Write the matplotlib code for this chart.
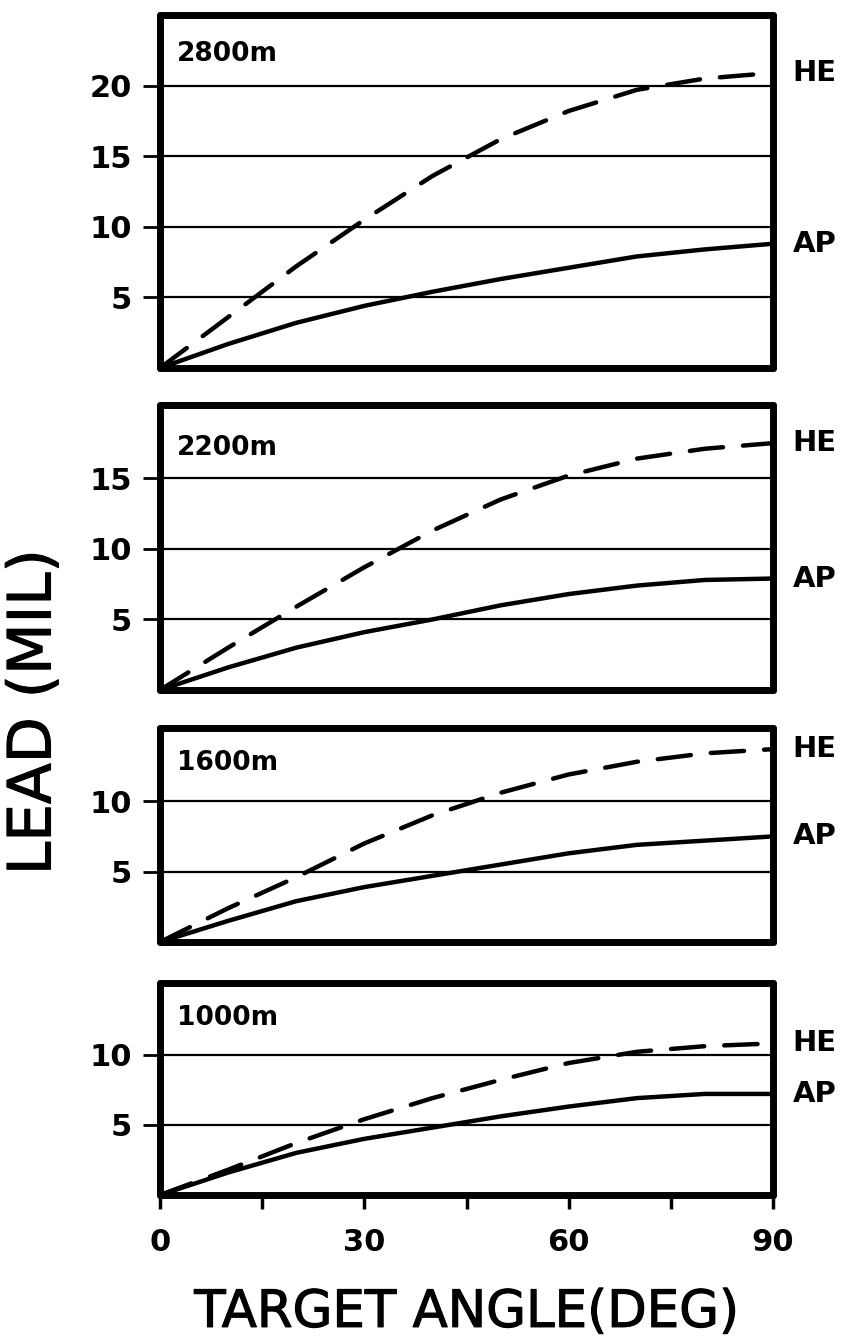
import matplotlib
matplotlib.use("Agg")
import matplotlib.pyplot as plt
import matplotlib.patheffects as pe

# ---- data ----
angles = [0, 10, 20, 30, 40, 50, 60, 70, 80, 90]
ranges = ["2800m", "2200m", "1600m", "1000m"]
he_2800 = [0, 3.6, 7.2, 10.5, 13.6, 16.2, 18.2, 19.7, 20.5, 20.9]
ap_2800 = [0, 1.7, 3.2, 4.4, 5.4, 6.3, 7.1, 7.9, 8.4, 8.8]
he_2200 = [0, 3.0, 5.9, 8.7, 11.3, 13.5, 15.2, 16.4, 17.1, 17.5]
ap_2200 = [0, 1.6, 3.0, 4.1, 5.0, 6.0, 6.8, 7.4, 7.8, 7.9]
he_1600 = [0, 2.4, 4.6, 7.0, 9.0, 10.6, 11.9, 12.8, 13.4, 13.7]
ap_1600 = [0, 1.5, 2.9, 3.9, 4.7, 5.5, 6.3, 6.9, 7.2, 7.5]
he_1000 = [0, 1.8, 3.7, 5.4, 6.9, 8.2, 9.4, 10.2, 10.6, 10.8]
ap_1000 = [0, 1.6, 3.0, 4.0, 4.8, 5.6, 6.3, 6.9, 7.2, 7.2]
he_series = [he_2800, he_2200, he_1600, he_1000]
ap_series = [ap_2800, ap_2200, ap_1600, ap_1000]
yticks = [[5, 10, 15, 20], [5, 10, 15], [5, 10], [5, 10]]
ytop = [25, 20.2, 15.2, 15.1]
xticks_major = [0, 30, 60, 90]
xticks_minor = [15, 45, 75]

W, H = 851, 1339
fig = plt.figure(figsize=(W / 100, H / 100), dpi=100)
fig.patch.set_facecolor("white")

medium = [pe.withStroke(linewidth=0.8, foreground="black")]

# panel pixel extents (top, bottom)
panels_px = [(15, 368), (405, 690), (728, 942), (983, 1195)]
left_px, right_px = 160, 773

for i, (top, bot) in enumerate(panels_px):
    ax = fig.add_axes([left_px / W, 1 - bot / H, (right_px - left_px) / W, (bot - top) / H])
    ax.set_xlim(0, 90)
    ax.set_ylim(0, ytop[i])
    for s in ax.spines.values():
        s.set_linewidth(5)
        s.set_capstyle("round")
        s.set_joinstyle("round")
    for yv in yticks[i]:
        ax.axhline(yv, color="black", lw=1.6, zorder=1)
    ax.plot(angles, ap_series[i], color="black", lw=3.2, solid_capstyle="round",
            solid_joinstyle="round", zorder=3)
    ax.plot(angles, he_series[i], color="black", lw=3.2, dashes=(7.5, 4.5),
            dash_capstyle="round", zorder=3)
    ax.set_yticks(yticks[i])
    ax.set_yticklabels([str(v) for v in yticks[i]], fontsize=22, fontweight="bold")
    ax.tick_params(axis="y", direction="out", length=12, width=2, pad=8)
    ax.text(0.027, 0.925 if i == 0 else 0.895, ranges[i], transform=ax.transAxes,
            fontsize=19, fontweight="bold", ha="left", va="top")
    ax.annotate("HE", xy=(90, he_series[i][-1]), xytext=(14, 0), textcoords="offset points",
                fontsize=21, fontweight="bold", va="center", ha="left", annotation_clip=False)
    ax.annotate("AP", xy=(90, ap_series[i][-1]), xytext=(14, 0), textcoords="offset points",
                fontsize=21, fontweight="bold", va="center", ha="left", annotation_clip=False)
    if i == 3:
        ax.set_xticks(xticks_major)
        ax.set_xticks(xticks_minor, minor=True)
        ax.set_xticklabels([str(v) for v in xticks_major], fontsize=22, fontweight="bold")
        ax.tick_params(axis="x", which="both", direction="out", length=10, width=2.5, pad=14)
        xl = ax.set_xlabel("TARGET ANGLE(DEG)", fontsize=37, labelpad=22)
        xl.set_path_effects(medium)
    else:
        ax.set_xticks([])

fig.text(34 / W, 1 - 712 / H, "LEAD (MIL)", rotation=90, fontsize=43,
         ha="center", va="center", path_effects=medium)

fig.savefig("out.png", dpi=100, facecolor="white")
